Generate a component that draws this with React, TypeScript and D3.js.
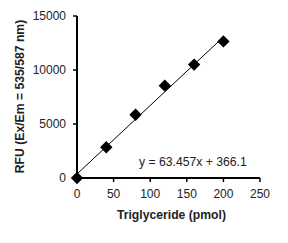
import * as d3 from "d3";

const xValues = [0, 40, 80, 120, 160, 200];
const yValues = [0, 2850, 5850, 8550, 10500, 12650];
const xTicks = [0, 50, 100, 150, 200, 250];
const yTicks = [0, 5000, 10000, 15000];
const slope = 63.457;
const intercept = 366.1;
const equation = "y = 63.457x + 366.1";

const W = 288;
const H = 243;
const margin = { left: 77, right: 28, top: 16, bottom: 65 };

export default function App() {
  const x = d3
    .scaleLinear()
    .domain([0, 250])
    .range([margin.left, W - margin.right]);
  const y = d3
    .scaleLinear()
    .domain([0, 15000])
    .range([H - margin.bottom, margin.top]);

  // linear trendline over the data range
  const fitLine = d3
    .line<number>()
    .x((d) => x(d))
    .y((d) => y(slope * d + intercept));

  const font = "'Liberation Sans', Arial, sans-serif";
  const s = 6.2; // diamond half-diagonal

  return (
    <svg
      width={W}
      height={H}
      style={{ position: "absolute", left: 0, top: 0, display: "block" }}
      fontFamily={font}
    >
      <rect width={W} height={H} fill="#fff" />
      <path
        d={fitLine([0, 200]) ?? ""}
        fill="none"
        stroke="#000"
        strokeWidth={1}
      />
      {/* axes */}
      <line
        x1={x(0)}
        x2={x(0)}
        y1={y(15000)}
        y2={y(0)}
        stroke="#000"
        strokeWidth={2}
      />
      <line
        x1={x(0)}
        x2={x(250)}
        y1={y(0)}
        y2={y(0)}
        stroke="#000"
        strokeWidth={2}
      />
      {yTicks.map((t) => (
        <g key={"y" + t}>
          <line
            x1={x(0) - 4}
            x2={x(0)}
            y1={y(t)}
            y2={y(t)}
            stroke="#000"
            strokeWidth={1.5}
          />
          <text
            x={x(0) - 11}
            y={y(t)}
            dy="0.36em"
            textAnchor="end"
            fontSize={12}
            fill="#222"
          >
            {t}
          </text>
        </g>
      ))}
      {xTicks.map((t) => (
        <g key={"x" + t}>
          <line
            x1={x(t)}
            x2={x(t)}
            y1={y(0)}
            y2={y(0) + 4}
            stroke="#000"
            strokeWidth={1.5}
          />
          <text
            x={x(t)}
            y={y(0) + 20}
            textAnchor="middle"
            fontSize={12}
            fill="#222"
          >
            {t}
          </text>
        </g>
      ))}
      {xValues.map((xv, i) => {
        const cx = x(xv);
        const cy = y(yValues[i]);
        return (
          <path
            key={"m" + i}
            d={`M${cx},${cy - s}L${cx + s},${cy}L${cx},${cy + s}L${cx - s},${cy}Z`}
            fill="#000"
          />
        );
      })}
      <text x={139} y={166} fontSize={12.2} fill="#222">
        {equation}
      </text>
      <text
        x={171.5}
        y={219}
        textAnchor="middle"
        fontSize={12.2}
        fontWeight="bold"
        fill="#222"
      >
        Triglyceride (pmol)
      </text>
      <text
        transform={`translate(23.5,96.5) rotate(-90)`}
        textAnchor="middle"
        fontSize={12.2}
        fontWeight="bold"
        fill="#222"
      >
        RFU (Ex/Em = 535/587 nm)
      </text>
    </svg>
  );
}
